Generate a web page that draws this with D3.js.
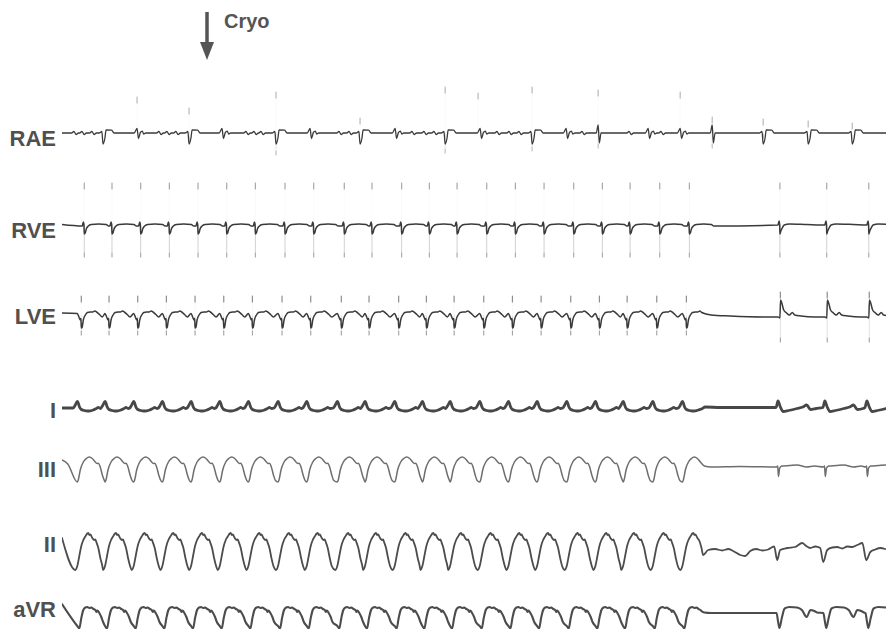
<!DOCTYPE html>
<html>
<head>
<meta charset="utf-8">
<script src="https://cdn.jsdelivr.net/npm/d3@7"></script>
<style>
  html, body { margin: 0; padding: 0; background: #fff; }
  svg { display: block; }
</style>
</head>
<body>
<svg id="ecg" width="887" height="629"></svg>
<script>
// ---------------- recording data (time in ms, amplitude in mV) ----------------

// Sweep window
const sweepMs = [0, 8620];

// QRS onsets of the tachycardia
const tachyBeats = [160, 450, 750, 1050, 1350, 1650, 1950, 2260, 2560, 2880, 3170,
                    3480, 3770, 4060, 4370, 4670, 4970, 5280, 5580, 5870, 6180, 6490];
// QRS onsets of the conducted beats after termination
const sinusBeats = [7490, 7980, 8420];

// Onset of the cryo application
const cryoAt = 1517;
const cryoLabel = "Cryo";

const leadNames = ["RAE", "RVE", "LVE", "I", "III", "II", "aVR"];

// Right atrial electrogram: timed atrial events
const raeBigA    = [429, 1329, 2239, 3118, 4008, 4918, 7335, 7806, 8267];
const raeNotch   = [785, 1674, 2595, 3485, 4374, 5274, 6132, 6467];
const raeSpike   = [5609, 6802];
const raeWavelet = [136, 220, 324, 1025, 1109, 1203, 1936, 2020, 2093, 2909, 3014,
                    3673, 3798, 3903, 4562, 4688, 4792, 5452, 5944, 6278];
// Atrial complex shapes [dt, mV]
const raeBigAShape    = [[-40, 0], [-12, 0.15], [0, -1.1], [20, -0.5], [32, 0.3], [90, 0.28], [115, 0]];
const raeNotchShape   = [[-30, 0], [0, 0.45], [15, -0.55], [35, 0.05], [55, 0.18], [70, -0.1], [90, 0]];
const raeSpikeShape   = [[-20, 0], [0, 0.8], [12, -1.0], [30, 0]];
const raeWaveletShape = [[-35, 0], [-12, 0.15], [12, -0.15], [35, 0]];
// Fast atrial deflections [t, top mV, bottom mV]
const raeFast = [[785, 3.6, 0], [1329, 2.5, -0.8], [2239, 4.1, -2.2], [3118, 1.5, 0],
                 [4008, 4.6, -2.0], [4353, 4.0, 0], [4918, 4.6, -1.8], [5609, 4.3, -1.5],
                 [6467, 4.1, 0], [6802, 1.6, -1.5], [7335, 1.4, -0.5], [7806, 1.2, 0], [8267, 1.0, 0]];

// Right ventricular electrogram [dt from QRS onset, mV]
const rveLeadIn = [[0, 0.05]];
const rveTachy  = [[52, -0.1], [63, 0.3], [70, 0.0], [73, -0.9], [83, -0.8], [94, -0.4],
                   [115, -0.1], [146, 0.05], [223, 0.1], [303, 0.05], [328, -0.1]];
const rveSinus  = [[0, 0.0], [12, 0.4], [18, 0.0], [20, -0.9], [30, -0.6], [45, -0.3],
                   [65, 0.0], [120, 0.1], [300, 0.05]];
const rveFastTachy = [73, 4.2, -3.2];
const rveFastSinus = [20, 4.2, -3.2];

// Left ventricular electrogram
const lveLeadIn = [[0, 0.3]];
const lveTachy  = [[0, 0.25], [17, -0.1], [32, -0.4], [38, -0.25], [42, -1.2], [50, -1.15],
                   [63, -0.4], [84, 0.1], [105, 0.35], [136, 0.4], [162, 0.4], [182, 0.5],
                   [202, 0.4], [232, 0.15], [262, -0.1]];
const lveTail   = [[202, 0.35], [300, 0.1], [500, 0.0], [900, -0.1]];
const lveSinus  = [[0, -0.1], [20, -0.2], [27, 1.6], [40, 1.3], [60, 0.6], [90, 0.3],
                   [120, 0.1], [150, 0.35], [175, 0.1], [240, 0.0], [380, -0.1]];
const lveFastTachy = [42, 2.0, -1.9];
const lveFastSinus = [25, 2.4, -2.6];

// Lead I
const iLeadIn = [[0, 0.0]];
const iTachy  = [[-42, 0], [-21, 0.3], [0, 0.65], [10, 0.5], [21, 0.15], [42, -0.15], [73, -0.25],
                 [105, -0.3], [136, -0.28], [167, -0.2], [199, -0.05], [220, 0.05], [241, -0.05]];
const iTail   = [[199, -0.1], [240, 0.1], [400, 0.05]];
const iSinus  = [[-20, 0.05], [0, 0.7], [25, 0.1], [55, -0.35], [110, -0.25], [200, -0.05],
                 [260, 0.1], [300, 0.3], [340, -0.15], [400, -0.05]];

// Lead III
const iiiLeadIn = [[0, 0.7], [60, 0.3]];
const iiiTachy  = [[0, -1.5], [10, -1.3], [31, -0.3], [63, 0.5], [94, 0.85], [125, 1.0], [157, 0.85],
                   [188, 0.5], [210, 0.35], [220, 0.38], [240, 0.0], [262, -0.8], [283, -1.35]];
const iiiTail   = [[188, 0.5], [230, 0.1], [300, 0.0], [600, 0.05]];
const iiiSinus  = [[-15, 0.0], [-3, 0.1], [5, -0.95], [18, -0.1], [40, 0.1], [120, 0.15],
                   [200, 0.2], [300, 0.0], [380, 0.1]];

// Lead II
const iiLeadIn = [[0, 1.2]];
const iiTachy  = [[-21, -2.0], [0, -1.6], [21, -0.6], [42, 0.4], [63, 1.0], [84, 1.35], [105, 1.65],
                  [115, 1.7], [126, 1.5], [136, 1.55], [157, 1.2], [178, 1.0], [188, 1.05],
                  [199, 0.8], [220, 0.2], [241, -0.8], [262, -1.6]];
const iiTail   = [[178, 0.9], [200, 0.2]];
const iiPost   = [[6707, -0.5], [6760, 0.0], [6833, 0.1], [6906, -0.05], [6969, 0.1], [7021, -0.1],
                  [7095, -0.5], [7147, -0.6], [7200, -0.1], [7262, 0.1], [7325, -0.05], [7388, 0.05],
                  [7450, 0.35], [7482, -1.0], [7513, 0.0], [7586, 0.2], [7670, 0.3], [7743, 0.7],
                  [7785, 0.4], [7827, 0.2], [7880, 0.35], [7932, 0.2], [7963, -1.2], [8005, 0.0],
                  [8058, 0.25], [8110, 0.3], [8162, 0.15], [8215, 0.35], [8267, 0.3], [8320, 0.5],
                  [8372, 0.7], [8414, -1.0], [8456, -0.2], [8508, 0.05], [8560, 0.2], [8612, 0.1]];

// aVR
const avrLeadIn = [[0, 0.9]];
const avrTachy  = [[0, -1.3], [21, -1.55], [42, -0.5], [63, 0.3], [84, 0.55], [105, 0.6], [126, 0.5],
                   [147, 0.55], [168, 0.4], [189, 0.3], [199, 0.1], [210, 0.25], [230, 0.0],
                   [251, -0.4], [270, -0.9]];
const avrTail   = [[199, 0.2], [230, 0.05], [300, 0.0]];
const avrSinus  = [[-15, 0.0], [0, -0.8], [15, -1.5], [40, -0.5], [70, 0.45], [120, 0.6], [200, 0.55],
                   [250, 0.3], [300, -0.4], [340, 0.3], [380, 0.2], [410, 0.05]];

// ---------------- layout & style ----------------
const W = 887, H = 629;
const traceLeft = 62, traceRight = 886;
const pxPerMv = 10;

const layout = {
  RAE: { base: 133, labelY: 146, color: "#3a3a3a", width: 1.3 },
  RVE: { base: 225, labelY: 238, color: "#3a3a3a", width: 1.5 },
  LVE: { base: 316, labelY: 324, color: "#3a3a3a", width: 1.5 },
  I:   { base: 408, labelY: 418, color: "#474747", width: 2.8 },
  III: { base: 467, labelY: 477, color: "#6e6e6e", width: 1.5 },
  II:  { base: 550, labelY: 552, color: "#4c4c4c", width: 1.8 },
  aVR: { base: 613, labelY: 617, color: "#4c4c4c", width: 2.1 }
};
const fastStyle = {
  RAE: { upOp: 0.04, downOp: 0.18, tipOp: 0.4 },
  RVE: { upOp: 0.03, downOp: 0.3, tipOp: 0.5 },
  LVE: { upOp: 0.05, downOp: 0.2, tipOp: 0.65 }
};

// ---------------- build traces ----------------
function beatTrace(leadIn, tachy, tail, sinus, post) {
  const pts = leadIn.slice();
  tachyBeats.forEach((t, i) => {
    let tpl = tachy;
    if (i === tachyBeats.length - 1 && tail) {
      const cut = tail[0][0];
      tpl = tachy.filter(d => d[0] < cut).concat(tail);
    }
    tpl.forEach(([dt, v]) => pts.push([t + dt, v]));
  });
  if (post) post.forEach(p => pts.push(p));
  if (sinus) sinusBeats.forEach(t => sinus.forEach(([dt, v]) => pts.push([t + dt, v])));
  return pts.sort((a, b) => a[0] - b[0]);
}

function raeTrace() {
  const pts = [[0, 0]];
  const place = (times, shape) => times.forEach(t => shape.forEach(([dt, v]) => pts.push([t + dt, v])));
  place(raeBigA, raeBigAShape);
  place(raeNotch, raeNotchShape);
  place(raeSpike, raeSpikeShape);
  place(raeWavelet, raeWaveletShape);
  pts.push([sweepMs[1], 0]);
  return pts.sort((a, b) => a[0] - b[0]);
}

const traces = {
  RAE: raeTrace(),
  RVE: beatTrace(rveLeadIn, rveTachy, null, rveSinus, null),
  LVE: beatTrace(lveLeadIn, lveTachy, lveTail, lveSinus, null),
  I:   beatTrace(iLeadIn, iTachy, iTail, iSinus, null),
  III: beatTrace(iiiLeadIn, iiiTachy, iiiTail, iiiSinus, null),
  II:  beatTrace(iiLeadIn, iiTachy, iiTail, null, iiPost),
  aVR: beatTrace(avrLeadIn, avrTachy, avrTail, avrSinus, null)
};

const fastMarks = {
  RAE: raeFast,
  RVE: tachyBeats.map(t => [t + rveFastTachy[0], rveFastTachy[1], rveFastTachy[2]])
        .concat(sinusBeats.map(t => [t + rveFastSinus[0], rveFastSinus[1], rveFastSinus[2]])),
  LVE: tachyBeats.map(t => [t + lveFastTachy[0], lveFastTachy[1], lveFastTachy[2]])
        .concat(sinusBeats.map(t => [t + lveFastSinus[0], lveFastSinus[1], lveFastSinus[2]]))
};

// ---------------- draw ----------------
const svg = d3.select("#ecg");
svg.append("rect").attr("width", W).attr("height", H).attr("fill", "#fff");

svg.append("defs").append("clipPath").attr("id", "sweep")
  .append("rect").attr("x", traceLeft).attr("y", 0)
  .attr("width", traceRight - traceLeft).attr("height", H);

const x = d3.scaleLinear().domain(sweepMs).range([traceLeft, traceRight]);
const plot = svg.append("g").attr("clip-path", "url(#sweep)");

leadNames.forEach(name => {
  const L = layout[name];
  const y = d3.scaleLinear().domain([-1, 1]).range([L.base + pxPerMv, L.base - pxPerMv]);

  // fast, faintly written deflections
  if (fastMarks[name]) {
    const st = fastStyle[name];
    const g = plot.append("g").attr("stroke", "#555").attr("stroke-linecap", "round");
    fastMarks[name].forEach(([t, top, bottom]) => {
      const xx = x(t);
      if (top > 0) {
        g.append("line").attr("x1", xx).attr("x2", xx).attr("y1", y(0)).attr("y2", y(top))
          .attr("stroke-width", 0.9).attr("stroke-opacity", st.upOp);
        g.append("line").attr("x1", xx).attr("x2", xx).attr("y1", y(top - 0.6)).attr("y2", y(top))
          .attr("stroke-width", 1.2).attr("stroke-opacity", st.tipOp);
      }
      if (bottom < 0) {
        g.append("line").attr("x1", xx).attr("x2", xx).attr("y1", y(0)).attr("y2", y(bottom))
          .attr("stroke-width", 0.9).attr("stroke-opacity", st.downOp);
        g.append("line").attr("x1", xx).attr("x2", xx).attr("y1", y(bottom + 0.4)).attr("y2", y(bottom))
          .attr("stroke-width", 1.1).attr("stroke-opacity", st.tipOp * 0.7);
      }
    });
  }

  const line = d3.line().x(d => x(d[0])).y(d => y(d[1])).curve(d3.curveMonotoneX);
  plot.append("path")
    .datum(traces[name])
    .attr("d", line)
    .attr("fill", "none")
    .attr("stroke", L.color)
    .attr("stroke-width", L.width)
    .attr("stroke-linejoin", "round")
    .attr("stroke-linecap", "round");

  svg.append("text")
    .attr("x", 56).attr("y", L.labelY)
    .attr("text-anchor", "end")
    .attr("font-family", "'Liberation Sans', Arial, Helvetica, sans-serif")
    .attr("font-weight", "bold")
    .attr("font-size", 22)
    .attr("fill", "#505050")
    .text(name);
});

// cryo marker
const cx = x(cryoAt);
svg.append("line").attr("x1", cx).attr("x2", cx).attr("y1", 12).attr("y2", 45)
  .attr("stroke", "#555").attr("stroke-width", 3.5);
svg.append("path")
  .attr("d", `M${cx - 7},42 L${cx + 7},42 L${cx},60 Z`)
  .attr("fill", "#555");
svg.append("text")
  .attr("x", cx + 17).attr("y", 28)
  .attr("font-family", "'Liberation Sans', Arial, Helvetica, sans-serif")
  .attr("font-weight", "bold")
  .attr("font-size", 20)
  .attr("fill", "#555")
  .text(cryoLabel);
</script>
</body>
</html>
